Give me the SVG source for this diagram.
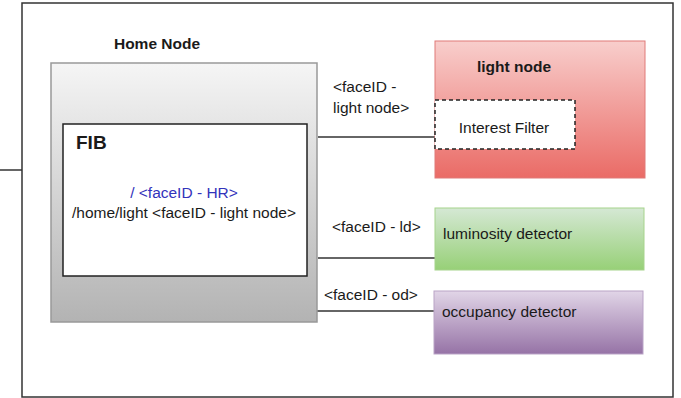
<svg xmlns="http://www.w3.org/2000/svg" width="681" height="398" viewBox="0 0 681 398">
  <defs>
    <linearGradient id="gHome" x1="0" y1="0" x2="0" y2="1">
      <stop offset="0" stop-color="#f5f5f5"/>
      <stop offset="1" stop-color="#b3b3b3"/>
    </linearGradient>
    <linearGradient id="gRed" x1="0" y1="0" x2="0" y2="1">
      <stop offset="0" stop-color="#f8cecc"/>
      <stop offset="1" stop-color="#ea6b66"/>
    </linearGradient>
    <linearGradient id="gGreen" x1="0" y1="0" x2="0" y2="1">
      <stop offset="0" stop-color="#d5e8d4"/>
      <stop offset="1" stop-color="#97d077"/>
    </linearGradient>
    <linearGradient id="gPurple" x1="0" y1="0" x2="0" y2="1">
      <stop offset="0" stop-color="#e1d5e7"/>
      <stop offset="1" stop-color="#9673a6"/>
    </linearGradient>
  </defs>
  <style>
    text { font-family: "Liberation Sans", Arial, sans-serif; font-size: 15.5px; fill: #1a1a1a; }
    .bold { font-weight: bold; }
    .blue { fill: #3333bb; }
    .wire { stroke: #333; stroke-width: 1.5; fill: none; }
  </style>

  <rect width="681" height="398" fill="#ffffff"/>

  <!-- enclosing frame -->
  <g id="frame">
    <rect x="22" y="3" width="651" height="394" fill="#ffffff" stroke="#333" stroke-width="1.5"/>
  </g>

  <!-- links between nodes -->
  <g id="connectors">
    <line class="wire" x1="0" y1="170" x2="22" y2="170"/>
    <line class="wire" x1="318" y1="137" x2="435" y2="137"/>
    <line class="wire" x1="318" y1="258" x2="435" y2="258"/>
    <line class="wire" x1="316" y1="311" x2="436" y2="311"/>
    <text x="333" y="92">&lt;faceID -</text>
    <text x="333" y="113">light node&gt;</text>
    <text x="332" y="232">&lt;faceID - ld&gt;</text>
    <text x="324" y="300">&lt;faceID - od&gt;</text>
  </g>

  <g id="home-node">
    <text class="bold" x="157" y="49" text-anchor="middle">Home Node</text>
    <rect x="51" y="63" width="266" height="259" fill="url(#gHome)" stroke="#999" stroke-width="1.5"/>
  </g>

  <g id="fib">
    <rect x="63" y="124" width="244" height="152" fill="#ffffff" stroke="#222" stroke-width="1.5"/>
    <text class="bold" x="76" y="149" style="font-size:19px">FIB</text>
    <text class="blue" x="184" y="198" text-anchor="middle">/ &lt;faceID - HR&gt;</text>
    <text x="184" y="218" text-anchor="middle">/home/light &lt;faceID - light node&gt;</text>
  </g>

  <g id="light-node">
    <rect x="435" y="41" width="210" height="137" fill="url(#gRed)" stroke="#e07a78" stroke-width="1"/>
    <text class="bold" x="514" y="72" text-anchor="middle">light node</text>
  </g>

  <g id="interest-filter">
    <rect x="435" y="100" width="140" height="49" fill="#ffffff" stroke="#222" stroke-width="1.5" stroke-dasharray="4 3"/>
    <text x="504" y="133" text-anchor="middle">Interest Filter</text>
  </g>

  <g id="luminosity-detector">
    <rect x="435" y="208" width="209" height="62" fill="url(#gGreen)" stroke="#a6d38c" stroke-width="1"/>
    <text x="443" y="239">luminosity detector</text>
  </g>

  <g id="occupancy-detector">
    <rect x="434" y="291" width="209" height="63" fill="url(#gPurple)" stroke="#b9a3c6" stroke-width="1"/>
    <text x="442" y="317">occupancy detector</text>
  </g>
</svg>
